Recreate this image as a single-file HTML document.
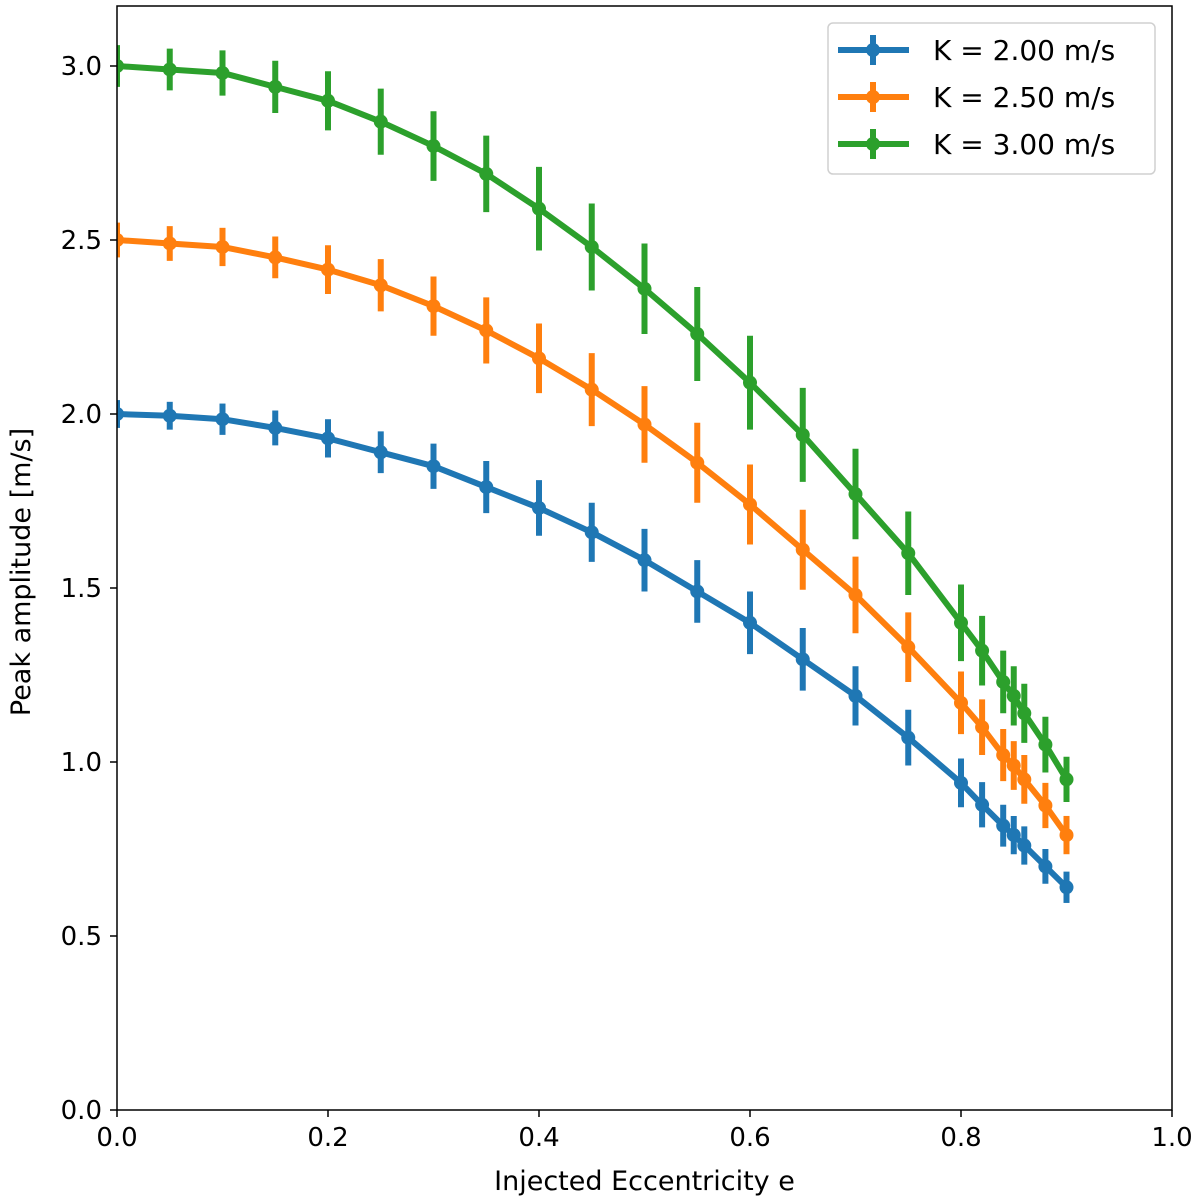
<!DOCTYPE html>
<html><head><meta charset="utf-8"><style>
html,body{margin:0;padding:0;background:#fff;}
svg{display:block;font-family:"DejaVu Sans","Liberation Sans",sans-serif;}
</style></head><body>
<svg id="chart" width="1200" height="1203" viewBox="0 0 1200 1203" xmlns="http://www.w3.org/2000/svg"></svg>
<script>
const eccentricities=[0,0.05,0.1,0.15,0.2,0.25,0.3,0.35,0.4,0.45,0.5,0.55,0.6,0.65,0.7,0.75,0.8,0.82,0.84,0.85,0.86,0.88,0.9];
const blueValues=[2.00,1.995,1.985,1.96,1.93,1.89,1.85,1.79,1.73,1.66,1.58,1.49,1.40,1.295,1.19,1.07,0.94,0.877,0.817,0.79,0.76,0.70,0.64];
const orangeValues=[2.50,2.49,2.48,2.45,2.415,2.37,2.31,2.24,2.16,2.07,1.97,1.86,1.74,1.61,1.48,1.33,1.17,1.10,1.02,0.99,0.95,0.875,0.79];
const greenValues=[3.00,2.99,2.98,2.94,2.90,2.84,2.77,2.69,2.59,2.48,2.36,2.23,2.09,1.94,1.77,1.60,1.40,1.32,1.23,1.19,1.14,1.05,0.95];
const blueErrors=[0.04,0.04,0.045,0.05,0.055,0.06,0.065,0.075,0.08,0.085,0.09,0.09,0.09,0.09,0.085,0.08,0.07,0.065,0.06,0.055,0.055,0.05,0.045];
const orangeErrors=[0.05,0.05,0.055,0.06,0.07,0.075,0.085,0.095,0.10,0.105,0.11,0.115,0.115,0.115,0.11,0.10,0.09,0.08,0.075,0.07,0.07,0.065,0.055];
const greenErrors=[0.06,0.06,0.065,0.075,0.085,0.095,0.10,0.11,0.12,0.125,0.13,0.135,0.135,0.135,0.13,0.12,0.11,0.10,0.09,0.085,0.085,0.08,0.065];
const seriesLabels=["K = 2.00 m/s","K = 2.50 m/s","K = 3.00 m/s"];
const xTicks=[0,0.2,0.4,0.6,0.8,1.0];
const yTicks=[0,0.5,1.0,1.5,2.0,2.5,3.0];

const NS="http://www.w3.org/2000/svg";
const svg=document.getElementById('chart');
const L=117,R=1172,T=6,B=1110;
const xs=v=>L+(R-L)*v;
const ys=v=>B-(1110-66)/3*v;
function mk(tag,attrs,parent){const e=document.createElementNS(NS,tag);for(const k in attrs)e.setAttribute(k,attrs[k]);(parent||svg).appendChild(e);return e;}

const defs=mk('defs',{});
const cp=mk('clipPath',{id:'plotclip'},defs);
mk('rect',{x:L,y:T,width:R-L,height:B-T},cp);

const series=[[blueValues,blueErrors,"#1f77b4"],[orangeValues,orangeErrors,"#ff7f0e"],[greenValues,greenErrors,"#2ca02c"]];
series.forEach((s,si)=>{
  const g=mk('g',{'clip-path':'url(#plotclip)'});
  
  
  const pts=eccentricities.map((e,i)=>xs(e)+','+ys(s[0][i])).join(' ');
  const pl=mk('polyline',{points:pts,fill:'none',stroke:s[2],'stroke-width':6,'stroke-linejoin':'round'},g);
  
  
  eccentricities.forEach((e,i)=>{
    const eb=mk('line',{x1:xs(e),x2:xs(e),y1:ys(s[0][i]-s[1][i]),y2:ys(s[0][i]+s[1][i]),stroke:s[2],'stroke-width':6},g);
    
    
    const c=mk('circle',{cx:xs(e),cy:ys(s[0][i]),r:7,fill:s[2]},g);
    
    
  });
});

const frame=mk('rect',{x:L,y:T,width:R-L,height:B-T,fill:'none',stroke:'#000','stroke-width':1.5});



xTicks.forEach(v=>{
  mk('line',{x1:xs(v),x2:xs(v),y1:B,y2:B+7,stroke:'#000','stroke-width':1.5});
  const t=mk('text',{x:xs(v),y:B+36,'text-anchor':'middle','font-size':26,fill:'#000'});
  t.textContent=v.toFixed(1);
  
  
});
yTicks.forEach(v=>{
  mk('line',{x1:L,x2:L-7,y1:ys(v),y2:ys(v),stroke:'#000','stroke-width':1.5});
  const t=mk('text',{x:L-15,y:ys(v)+9,'text-anchor':'end','font-size':26,fill:'#000'});
  t.textContent=v.toFixed(1);
  
  
});
const xt=mk('text',{x:(L+R)/2,y:1190,'text-anchor':'middle','font-size':27,fill:'#000'});
xt.textContent='Injected Eccentricity e';


const yt=mk('text',{x:0,y:0,'text-anchor':'middle','font-size':27,fill:'#000',transform:'translate(30,572) rotate(-90)'});
yt.textContent='Peak amplitude [m/s]';



const lg=mk('g',{});


mk('rect',{x:828,y:23,width:327,height:151,rx:5,fill:'#fff',stroke:'#d0d0d0','stroke-width':1.5},lg);
series.forEach((s,i)=>{
  const y=50+i*47;
  const e=mk('g',{},lg);
  
  
  mk('line',{x1:838,x2:909,y1:y,y2:y,stroke:s[2],'stroke-width':6},e);
  mk('line',{x1:873,x2:873,y1:y-15,y2:y+15,stroke:s[2],'stroke-width':6},e);
  mk('circle',{cx:873,cy:y,r:7,fill:s[2]},e);
  const t=mk('text',{x:933,y:y+10,'font-size':28,fill:'#000'},e);
  t.textContent=seriesLabels[i];
});
</script>
</body></html>
